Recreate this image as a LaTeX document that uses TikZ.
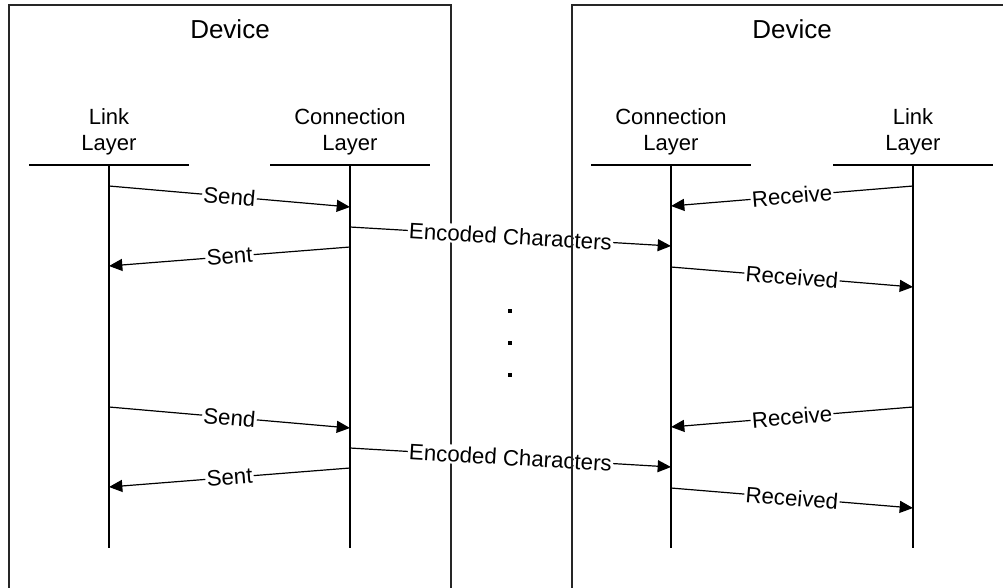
\documentclass[tikz,border=0pt]{standalone}
\usepackage{fontspec}
\setmainfont{Liberation Sans}
\usetikzlibrary{positioning,arrows.meta}

\begin{document}
\begin{tikzpicture}[x=0.75pt,y=-0.75pt,>={Triangle[length=10pt,width=9pt]}]
\tikzset{
  layer/.style={align=center,font=\fontsize{16.5}{19.5}\selectfont,inner sep=0pt},
  msg/.style={->,line width=0.9pt},
  lbl/.style={sloped,fill=white,inner sep=1pt,font=\fontsize{16.7}{19.5}\selectfont},
  dot/.style={fill=black,inner sep=0pt,minimum size=3.2pt},
  box/.style={line width=1pt,draw=black!85}
}
\useasboundingbox (0,0) rectangle (1003,587);
\clip (0,0) rectangle (1003,587);

% left device
\draw[box] (9,600) |- (451,5) -- (451,600);
\node[font=\fontsize{19.5}{23}\selectfont] (devA) at (230,29) {Device};
\node[font=\fontsize{19.5}{23}\selectfont] (devB) at (792,29) {Device};

% lifelines
\coordinate (topA) at (109,165);
\coordinate (topB) at (350,165);
\coordinate (topC) at (671,165);
\coordinate (topD) at (913,165);
\coordinate (botA) at (109,548);
\coordinate (botB) at (350,548);
\coordinate (botC) at (671,548);
\coordinate (botD) at (913,548);

\node[layer,above=7pt of topA] (lnkA) {Link\\Layer};
\node[layer,above=7pt of topB] (conA) {Connection\\Layer};
\node[layer,above=7pt of topC] (conB) {Connection\\Layer};
\node[layer,above=7pt of topD] (lnkB) {Link\\Layer};

\foreach \t/\b in {topA/botA,topB/botB,topC/botC,topD/botD}{
  \draw[line width=0.8pt] ([xshift=-60pt]\t) -- ([xshift=60pt]\t);
  \draw[line width=0.8pt] (\t) -- (\b);
}

% messages
\foreach \o/\n in {0/1,221/2}{
  \coordinate (sendS\n) at (109,186+\o);
  \coordinate (sendE\n) at (350,207+\o);
  \coordinate (encS\n) at (350,227+\o);
  \coordinate (encE\n) at (671,246+\o);
  \coordinate (sentS\n) at (350,247+\o);
  \coordinate (sentE\n) at (109,266+\o);
  \coordinate (recS\n) at (913,186+\o);
  \coordinate (recE\n) at (671,206+\o);
  \coordinate (rcdS\n) at (671,267+\o);
  \coordinate (rcdE\n) at (913,287+\o);

  \path (sendS\n) edge[msg] node[lbl] {Send} (sendE\n);
  \path (encS\n) edge[msg] node[lbl] {Encoded Characters} (encE\n);
  \path (sentS\n) edge[msg] node[lbl] {Sent} (sentE\n);
  \path (recS\n) edge[msg] node[lbl] {Receive} (recE\n);
  \path (rcdS\n) edge[msg] node[lbl] {Received} (rcdE\n);
}

% right device
\draw[box] (572,600) |- (1010,5);

%dots
\foreach \y/\n in {311/1,343/2,375/3}
  \node[dot] (dt\n) at (510,\y) {};
\end{tikzpicture}
\end{document}
